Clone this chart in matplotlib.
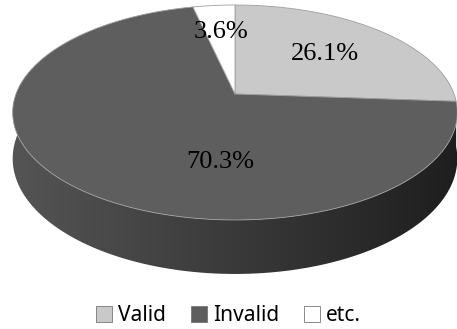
import numpy as np
import matplotlib.pyplot as plt
from matplotlib.patches import Polygon, Patch
from matplotlib.colors import LinearSegmentedColormap

labels = ["Valid", "Invalid", "etc."]
values = [26.1, 70.3, 3.6]
top_colors = ["#c9c9c9", "#5e5e5e", "#ffffff"]
side_colors = [("#b4b4b4", "#9a9a9a"), ("#555555", "#1e1e1e"), ("#e8e8e8", "#d0d0d0")]

# where each percent label sits on the unit disk (u right, v toward viewer)
label_uv = [(0.44, -0.41), (-0.06, 0.59), (-0.07, -0.66)]

# pie geometry in pixels (3d tilt with a bit of perspective)
CX, CY = 235, 94
A_X, A_Y = 219, 104.3
K = 0.172
DEPTH = 44.7


def project(u, v, drop=0.0):
    d = 1 - K * v
    return CX + A_X * u / d, CY + (A_Y * v + drop) / d


fig = plt.figure(figsize=(4.57, 3.29), dpi=100)
ax = fig.add_axes([0, 0, 1, 1])
ax.set_xlim(0, 457)
ax.set_ylim(329, 0)
ax.axis("off")

# angles clockwise from 12 o'clock
bounds = np.concatenate([[0], np.cumsum(values)]) / 100 * 2 * np.pi

# side walls: only the part facing the viewer, filled with a left-to-right gradient
for i in range(len(values)):
    th = np.linspace(bounds[i], bounds[i + 1], 300)
    th = th[-np.cos(th) > -0.2]
    if len(th) < 2:
        continue
    top = [project(np.sin(a), -np.cos(a)) for a in th]
    bot = [project(np.sin(a), -np.cos(a), DEPTH) for a in th[::-1]]
    wall = Polygon(top + bot, closed=True, facecolor="none", edgecolor="none")
    ax.add_patch(wall)
    cmap = LinearSegmentedColormap.from_list("w%d" % i, side_colors[i])
    grad = np.linspace(0, 1, 256).reshape(1, -1)
    im = ax.imshow(grad, cmap=cmap, extent=(CX - 225, CX + 225, 300, 0),
                   aspect="auto", zorder=1)
    im.set_clip_path(wall)

ax.set_xlim(0, 457)
ax.set_ylim(329, 0)

# top faces
for i in range(len(values)):
    th = np.linspace(bounds[i], bounds[i + 1], 200)
    pts = [project(0, 0)] + [project(np.sin(a), -np.cos(a)) for a in th]
    ax.add_patch(Polygon(pts, closed=True, facecolor=top_colors[i],
                         edgecolor="#a0a0a0", linewidth=0.6, zorder=3))

for (u, v), val in zip(label_uv, values):
    x, y = project(u, v)
    ax.text(x, y, f"{val:.1f}%", ha="center", va="center", fontsize=19,
            family="Liberation Serif", color="black", zorder=5)

handles = [Patch(facecolor=c, edgecolor="#777777", linewidth=0.6) for c in top_colors]
fig.legend(handles, labels, loc="center", bbox_to_anchor=(0.5, 0.04), ncol=3,
           frameon=False, handlelength=0.75, handleheight=0.75, handletextpad=0.3,
           columnspacing=1.2, prop={"family": "Noto Sans", "size": 15})

fig.savefig("out.png", dpi=100)
